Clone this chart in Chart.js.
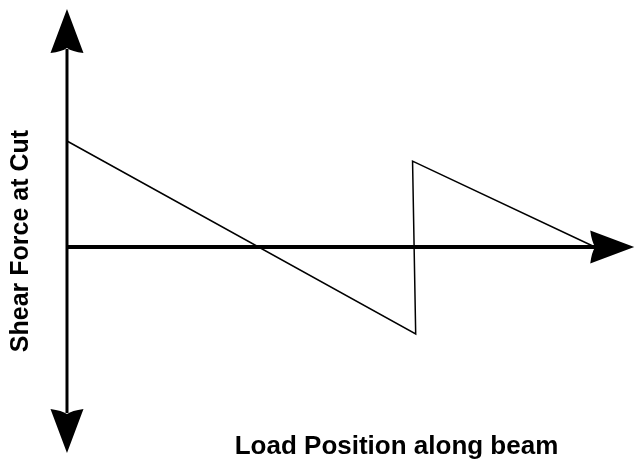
<!DOCTYPE html>
<html><head><meta charset="utf-8">
<script src="https://cdn.jsdelivr.net/npm/chart.js@4.4.1/dist/chart.umd.min.js"></script>
<style>html,body{margin:0;padding:0;background:#fff}#wrap{width:635px;height:465px;position:relative}</style>
</head><body><div id="wrap"><canvas id="c"></canvas></div>
<script>
// Load position (x) and shear force (y)
const loadPositions = [0, 10.02, 9.93, 15.17];
const shearValues = [10.0, -8.2, 8.1, 0];
const xAxisTitle = "Load Position along beam";
const yAxisTitle = "Shear Force at Cut";
// axis extents (arrow tips) in data units
const xAxisEnd = 16.3;
const yAxisTop = 22.45;
const yAxisBottom = -19.43;

const axesPlugin = {
  id: 'arrowAxes',
  beforeDatasetsDraw(chart) {
    const ctx = chart.ctx, xs = chart.scales.x, ys = chart.scales.y;
    const x0 = xs.getPixelForValue(0), y0 = ys.getPixelForValue(0);
    const yt = ys.getPixelForValue(yAxisTop), yb = ys.getPixelForValue(yAxisBottom);
    const xr = xs.getPixelForValue(xAxisEnd);
    ctx.save();
    ctx.strokeStyle = '#000'; ctx.fillStyle = '#000';
    // vertical axis
    ctx.lineWidth = 3;
    ctx.beginPath(); ctx.moveTo(x0, yt + 40); ctx.lineTo(x0, yb - 40); ctx.stroke();
    // horizontal axis
    ctx.lineWidth = 4;
    ctx.beginPath(); ctx.moveTo(x0, y0); ctx.lineTo(xr - 38, y0); ctx.stroke();
    // arrowheads
    const head = (tx, ty, dx, dy) => {
      const L = 44, W = 16.5, N = 5;
      const px = -dy, py = dx;
      const bx = tx - dx * L, by = ty - dy * L;
      ctx.beginPath();
      ctx.moveTo(tx, ty);
      ctx.quadraticCurveTo(tx - dx*L*0.55 + px*W*0.55, ty - dy*L*0.55 + py*W*0.55, bx + px*W, by + py*W);
      ctx.quadraticCurveTo(bx + dx*N*0.3 + px*W*0.3, by + dy*N*0.3 + py*W*0.3, tx - dx*(L-N), ty - dy*(L-N));
      ctx.quadraticCurveTo(bx + dx*N*0.3 - px*W*0.3, by + dy*N*0.3 - py*W*0.3, bx - px*W, by - py*W);
      ctx.quadraticCurveTo(tx - dx*L*0.55 - px*W*0.55, ty - dy*L*0.55 - py*W*0.55, tx, ty);
      ctx.closePath(); ctx.fill();
    };
    head(x0, yt, 0, -1);
    head(x0, yb, 0, 1);
    head(xr, y0, 1, 0);
    // titles
    ctx.textAlign = 'center'; ctx.textBaseline = 'alphabetic';
    ctx.font = 'bold 26px "Liberation Sans", Arial, sans-serif';
    ctx.fillText(xAxisTitle, 396.5, 454);
    ctx.font = 'bold 25px "Liberation Sans", Arial, sans-serif';
    ctx.translate(28, 241); ctx.rotate(-Math.PI / 2);
    ctx.fillText(yAxisTitle, 0, 0);
    ctx.restore();
  }
};

new Chart(document.getElementById('c'), {
  type: 'scatter',
  data: { datasets: [{
    data: loadPositions.map((x, i) => ({ x, y: shearValues[i] })),
    showLine: true, borderColor: '#000', borderWidth: 1.5, pointRadius: 0,
    tension: 0, clip: false
  }]},
  options: {
    responsive: true, maintainAspectRatio: false, animation: false,
    layout: { padding: 0 },
    plugins: { legend: { display: false }, tooltip: { enabled: false } },
    scales: {
      x: { type: 'linear', display: false, min: -1.925, max: 16.322 },
      y: { type: 'linear', display: false, min: -20.566, max: 23.302 }
    }
  },
  plugins: [axesPlugin]
});
</script></body></html>
